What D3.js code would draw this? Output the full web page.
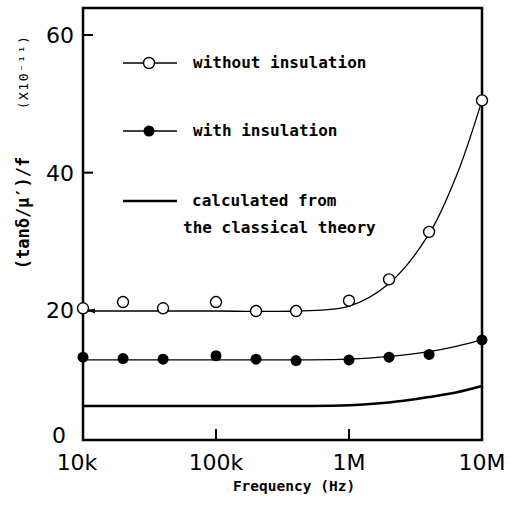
<!DOCTYPE html>
<html>
<head>
<meta charset="utf-8">
<script src="https://cdn.jsdelivr.net/npm/d3@7"></script>
<style>
  body { margin: 0; background: #fff; }
  svg { display: block; }
  .mono { font-family: "DejaVu Sans Mono", monospace; font-weight: bold; }
  .tick-label { font-family: "DejaVu Sans", sans-serif; font-size: 22px; }
</style>
</head>
<body>
<svg width="514" height="506"></svg>
<script>
// measured frequencies (Hz)
const freqs = [1e4, 2e4, 4e4, 1e5, 2e5, 4e5, 1e6, 2e6, 4e6, 1e7];
// (tan d / mu') / f  in units of 1e-11
const withoutIns = [20.3, 21.2, 20.3, 21.2, 19.9, 19.9, 21.4, 24.5, 31.4, 50.5];
const withIns = [13.2, 13.0, 12.9, 13.4, 12.9, 12.7, 12.8, 13.2, 13.6, 15.7];

// hand-drawn fit curves
const fitFreqs = [1e4, 1e5, 4e5, 1e6, 2e6, 4e6, 6.5e6, 1e7];
const fitWithout = [19.9, 19.9, 19.9, 20.6, 23.9, 31.1, 39.8, 50.5];
const fitWith = [12.8, 12.8, 12.8, 12.9, 13.3, 14.0, 14.8, 15.7];
const fitClassical = [6.1, 6.1, 6.1, 6.2, 6.6, 7.4, 8.1, 9.0];

const xTicks = [1e4, 1e5, 1e6, 1e7];
const xTickLabels = ["10k", "100k", "1M", "10M"];
const yTicks = [20, 40, 60];

const svg = d3.select("svg");
const m = { left: 83, right: 482, top: 8, bottom: 440 };

const x = d3.scaleLog().domain([1e4, 1e7]).range([m.left, m.right]);
const y = d3.scaleLinear().domain([0, 60]).range([448, 35]);

// frame
svg.append("rect")
  .attr("x", m.left).attr("y", m.top)
  .attr("width", m.right - m.left).attr("height", m.bottom - m.top)
  .attr("fill", "none").attr("stroke", "#000").attr("stroke-width", 2.5);

// inward ticks
svg.selectAll(".ytick").data(yTicks).enter().append("line")
  .attr("x1", m.left).attr("x2", m.left + 10)
  .attr("y1", d => y(d)).attr("y2", d => y(d))
  .attr("stroke", "#000").attr("stroke-width", 2);

svg.selectAll(".xtick").data(xTicks.slice(1, 3)).enter().append("line")
  .attr("x1", d => x(d)).attr("x2", d => x(d))
  .attr("y1", m.bottom).attr("y2", m.bottom - 11)
  .attr("stroke", "#000").attr("stroke-width", 2);

// tick labels
svg.selectAll(".ylab").data(yTicks).enter().append("text")
  .classed("tick-label", true)
  .attr("x", 74).attr("y", d => y(d))
  .attr("dy", "0.36em")
  .attr("text-anchor", "end")
  .text(d => d);

svg.append("text").classed("tick-label", true)
  .attr("x", 66).attr("y", 435).attr("dy", "0.36em")
  .attr("text-anchor", "end").text("0");

svg.selectAll(".xlab").data(xTicks).enter().append("text")
  .classed("tick-label", true)
  .attr("x", (d, i) => x(d) + (i === 0 ? -6 : 0))
  .attr("y", 470)
  .attr("text-anchor", "middle")
  .text((d, i) => xTickLabels[i]);

// axis titles
svg.append("text").classed("mono", true)
  .attr("x", 294).attr("y", 491)
  .attr("text-anchor", "middle")
  .style("font-size", "14.5px")
  .text("Frequency (Hz)");

svg.append("text").classed("mono", true)
  .attr("transform", "translate(29,213) rotate(-90)")
  .attr("text-anchor", "middle")
  .style("font-size", "17px")
  .text("(tanδ/μ′)/f");

svg.append("text").classed("mono", true)
  .attr("transform", "translate(28,72) rotate(-90)")
  .attr("text-anchor", "middle")
  .style("font-size", "13px")
  .style("font-weight", "normal")
  .style("letter-spacing", "1.5px")
  .text("(X10⁻¹¹)");

// fit curves
const line = d3.line()
  .x(d => x(d[0]))
  .y(d => y(d[1]))
  .curve(d3.curveCatmullRom.alpha(0.5));

svg.append("path")
  .datum(fitFreqs.map((f, i) => [f, fitWithout[i]]))
  .attr("d", line)
  .attr("fill", "none").attr("stroke", "#000").attr("stroke-width", 1.3);

svg.append("path")
  .datum(fitFreqs.map((f, i) => [f, fitWith[i]]))
  .attr("d", line)
  .attr("fill", "none").attr("stroke", "#000").attr("stroke-width", 1.3);

svg.append("path")
  .datum(fitFreqs.map((f, i) => [f, fitClassical[i]]))
  .attr("d", line)
  .attr("fill", "none").attr("stroke", "#000").attr("stroke-width", 2.5);

// small arrowhead on the open-circle fit near 10k
svg.append("path")
  .attr("d", `M${x(1e4) + 6},${y(19.9)} l6,-2.5 l0,5 z`)
  .attr("fill", "#000");

// data points
svg.selectAll(".open").data(freqs).enter().append("circle")
  .attr("cx", d => x(d))
  .attr("cy", (d, i) => y(withoutIns[i]))
  .attr("r", 5.5)
  .attr("fill", "#fff").attr("stroke", "#000").attr("stroke-width", 1.4);

svg.selectAll(".filled").data(freqs).enter().append("circle")
  .attr("cx", d => x(d))
  .attr("cy", (d, i) => y(withIns[i]))
  .attr("r", 5.5)
  .attr("fill", "#000");

// legend
const legend = svg.append("g");
const legY = [63, 131, 201];
legY.forEach((ly, i) => {
  legend.append("line")
    .attr("x1", 123).attr("x2", 177)
    .attr("y1", ly).attr("y2", ly)
    .attr("stroke", "#000").attr("stroke-width", i === 2 ? 2.5 : 1.3);
});
legend.append("circle").attr("cx", 149).attr("cy", legY[0]).attr("r", 5.5)
  .attr("fill", "#fff").attr("stroke", "#000").attr("stroke-width", 1.4);
legend.append("circle").attr("cx", 149).attr("cy", legY[1]).attr("r", 5.5)
  .attr("fill", "#000");

const legText = [
  ["without insulation", 193, 68],
  ["with insulation", 193, 136],
  ["calculated from", 192, 206],
  ["the classical theory", 183, 233]
];
legend.selectAll("text").data(legText).enter().append("text")
  .classed("mono", true)
  .attr("x", d => d[1]).attr("y", d => d[2])
  .style("font-size", "16px")
  .text(d => d[0]);
</script>
</body>
</html>
